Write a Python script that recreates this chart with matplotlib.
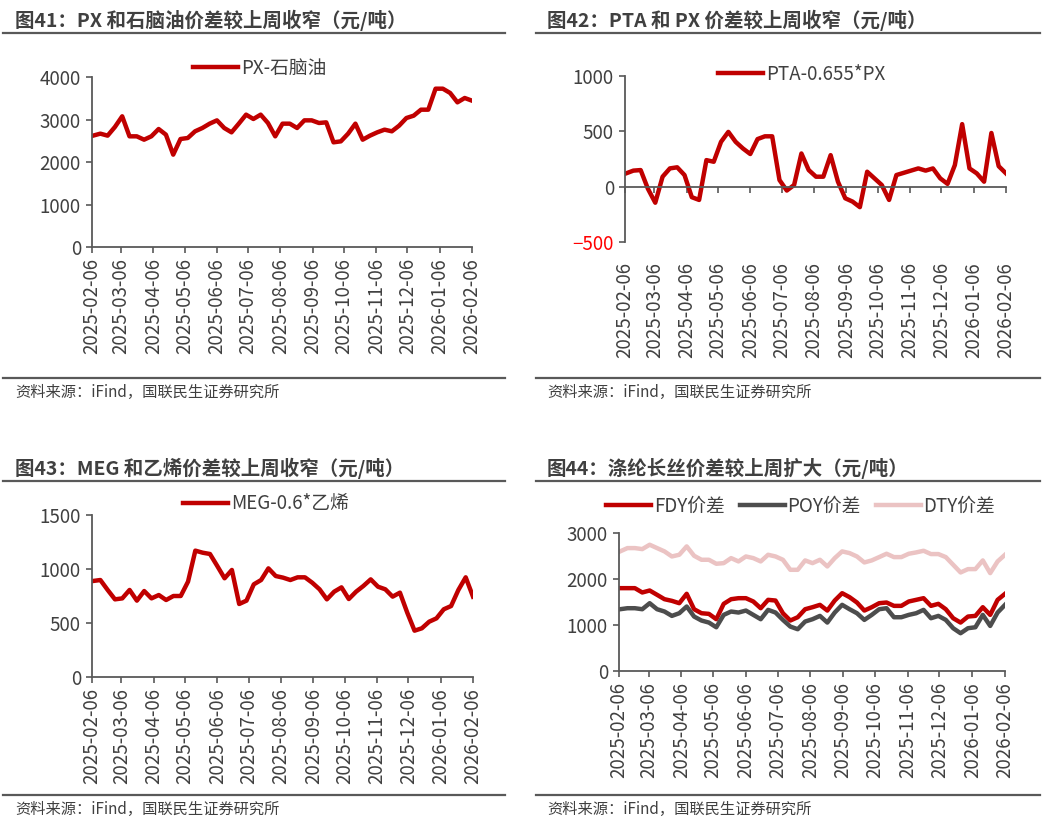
"""
plot.py
=======
Four weekly spread charts (PX, PTA, MEG, polyester filament), 2025-02 to 2026-02.
"""

import matplotlib.pyplot as plt
import matplotlib.dates as mdates
import pandas as pd
from matplotlib.lines import Line2D


# ---------------------------------------------------------------------------
# Data (yuan/ton, weekly)
# ---------------------------------------------------------------------------

dates = pd.date_range('2025-02-07', periods=53, freq='7D')
month_ticks = pd.date_range('2025-02-01', '2026-02-01', freq='MS') + pd.Timedelta(days=5)

px_naphtha = [2620, 2667, 2620, 2824, 3075, 2604, 2604, 2525, 2604, 2776,
              2643, 2173, 2541, 2565, 2722, 2800, 2902, 2980, 2800, 2698,
              2902, 3114, 3012, 3114, 2918, 2604, 2902, 2902, 2800, 2980,
              2980, 2918, 2933, 2463, 2486, 2667, 2902, 2525, 2620, 2698,
              2761, 2722, 2855, 3035, 3090, 3231, 3231, 3725, 3725, 3624,
              3404, 3506, 3443]

pta_px = [120, 145, 150, -20, -145, 90, 165, 175, 105, -95,
          -120, 240, 225, 405, 495, 405, 345, 295, 430, 455,
          455, 60, -35, 15, 300, 150, 90, 90, 285, 45,
          -105, -135, -185, 135, 75, 15, -120, 105, 125, 145,
          165, 145, 165, 75, 25, 195, 565, 165, 120, 45,
          485, 185, 120]

meg_ethylene = [889, 898, 806, 719, 728, 806, 707, 796, 728, 759,
                713, 750, 750, 883, 1170, 1151, 1139, 1028, 914, 991,
                676, 707, 858, 898, 1006, 935, 920, 898, 923, 923,
                873, 812, 719, 790, 830, 722, 790, 843, 904, 836,
                812, 744, 781, 596, 429, 451, 512, 543, 627, 657,
                806, 923, 744]

fdy = [1801, 1801, 1801, 1707, 1750, 1656, 1561, 1525, 1474, 1678,
       1343, 1256, 1242, 1126, 1460, 1561, 1583, 1583, 1511, 1365,
       1547, 1532, 1256, 1097, 1169, 1343, 1387, 1438, 1314, 1532,
       1692, 1605, 1489, 1314, 1387, 1474, 1489, 1416, 1416, 1511,
       1547, 1583, 1416, 1460, 1343, 1147, 1053, 1184, 1198, 1387,
       1220, 1547, 1678]

poy = [1343, 1365, 1365, 1343, 1474, 1343, 1293, 1198, 1256, 1402,
       1184, 1097, 1053, 951, 1220, 1293, 1271, 1314, 1220, 1126,
       1329, 1271, 1111, 966, 908, 1075, 1126, 1198, 1053, 1271,
       1438, 1343, 1256, 1111, 1220, 1343, 1365, 1169, 1169, 1220,
       1256, 1329, 1147, 1198, 1111, 930, 821, 930, 951, 1220,
       980, 1271, 1438]

dty = [2600, 2672, 2672, 2650, 2745, 2672, 2600, 2490, 2527, 2709,
       2505, 2418, 2418, 2331, 2345, 2454, 2382, 2490, 2454, 2382,
       2527, 2490, 2418, 2200, 2200, 2404, 2345, 2418, 2273, 2454,
       2600, 2563, 2490, 2360, 2404, 2476, 2549, 2476, 2476, 2549,
       2578, 2614, 2542, 2542, 2476, 2309, 2142, 2215, 2215, 2404,
       2128, 2382, 2527]

titles = ['图41：PX 和石脑油价差较上周收窄（元/吨）',
          '图42：PTA 和 PX 价差较上周收窄（元/吨）',
          '图43：MEG 和乙烯价差较上周收窄（元/吨）',
          '图44：涤纶长丝价差较上周扩大（元/吨）']
source = '资料来源：iFind，国联民生证券研究所'


# ---------------------------------------------------------------------------
# Style
# ---------------------------------------------------------------------------

W, H = 1049, 831
RED = '#C00000'
GREY = '#4D4D4D'
PINK = '#EBC3C3'
AXIS = '#595959'
TEXT = '#404040'

plt.rcParams['font.family'] = ['Noto Sans CJK SC', 'DejaVu Sans']


def px_axes(fig, x0, y0, x1, y1):
    """Add axes from pixel box (left, top, right, bottom)."""
    return fig.add_axes([x0 / W, 1 - y1 / H, (x1 - x0) / W, (y1 - y0) / H])


def hline(fig, x0, x1, y, lw=1.6):
    fig.add_artist(Line2D([x0 / W, x1 / W], [1 - y / H, 1 - y / H],
                          color=AXIS, lw=lw, transform=fig.transFigure))


def frame(fig, tx, ty, title, lx0, lx1, ly, by, sy):
    fig.text(tx / W, 1 - ty / H, title, fontsize=14, fontweight='bold',
             color=TEXT, va='center', ha='left')
    hline(fig, lx0, lx1, ly)
    hline(fig, lx0, lx1, by)
    fig.text(tx / W, 1 - sy / H, source, fontsize=11, color=TEXT,
             va='center', ha='left')


def style_axes(ax, yticks):
    for side in ('top', 'right'):
        ax.spines[side].set_visible(False)
    for side in ('left', 'bottom'):
        ax.spines[side].set_color(AXIS)
        ax.spines[side].set_linewidth(1.3)
    ax.set_xlim(pd.Timestamp('2025-02-06'), pd.Timestamp('2026-02-06'))
    ax.set_xticks(month_ticks)
    ax.xaxis.set_major_formatter(mdates.DateFormatter('%Y-%m-%d'))
    ax.set_yticks(yticks)
    ax.set_ylim(yticks[0], yticks[-1])
    ax.tick_params(axis='both', colors=AXIS, labelcolor=TEXT, labelsize=13.5,
                   length=4.5, width=1.2, direction='out')
    ax.tick_params(axis='x', labelrotation=90)


def legend(ax, fig, x, y, ncol=1, spacing=2.0):
    ax.legend(loc='center left', bbox_to_anchor=(x / W, 1 - y / H),
              bbox_transform=fig.transFigure, frameon=False, fontsize=13.5,
              handlelength=2.4, handletextpad=0.15, ncol=ncol,
              columnspacing=spacing, labelcolor=TEXT, borderaxespad=0,
              borderpad=0)


# ---------------------------------------------------------------------------
# Figure
# ---------------------------------------------------------------------------

fig = plt.figure(figsize=(W / 100, H / 100), dpi=100)

frame(fig, 15, 20, titles[0], 3, 505, 33, 378, 392)
frame(fig, 547, 20, titles[1], 536, 1040, 33, 378, 392)
frame(fig, 15, 468, titles[2], 3, 505, 481, 795, 809)
frame(fig, 547, 468, titles[3], 536, 1040, 481, 795, 809)

# Panel 1: PX - naphtha
ax1 = px_axes(fig, 92, 77, 472, 247)
ax1.plot(dates, px_naphtha, color=RED, lw=3.2, label='PX-石脑油')
style_axes(ax1, [0, 1000, 2000, 3000, 4000])
legend(ax1, fig, 193, 68)

# Panel 2: PTA - 0.655*PX
ax2 = px_axes(fig, 625, 76, 1006, 242)
ax2.plot(dates, pta_px, color=RED, lw=3.2, label='PTA-0.655*PX')
style_axes(ax2, [-500, 0, 500, 1000])
ax2.spines['bottom'].set_position(('data', 0))
ax2.tick_params(axis='x', pad=50)
ax2.get_yticklabels()[0].set_color('#FF0000')
legend(ax2, fig, 718, 74)

# Panel 3: MEG - 0.6*ethylene
ax3 = px_axes(fig, 92, 515, 473, 677)
ax3.plot(dates, meg_ethylene, color=RED, lw=3.2, label='MEG-0.6*乙烯')
style_axes(ax3, [0, 500, 1000, 1500])
legend(ax3, fig, 183, 504)

# Panel 4: polyester filament spreads
ax4 = px_axes(fig, 619, 533, 1005, 671)
ax4.plot(dates, fdy, color=RED, lw=3.2, label='FDY价差')
ax4.plot(dates, poy, color=GREY, lw=3.2, label='POY价差')
ax4.plot(dates, dty, color=PINK, lw=3.2, label='DTY价差')
style_axes(ax4, [0, 1000, 2000, 3000])
legend(ax4, fig, 606, 506, ncol=3, spacing=0.8)

fig.savefig('out.png', dpi=100)
plt.close('all')
